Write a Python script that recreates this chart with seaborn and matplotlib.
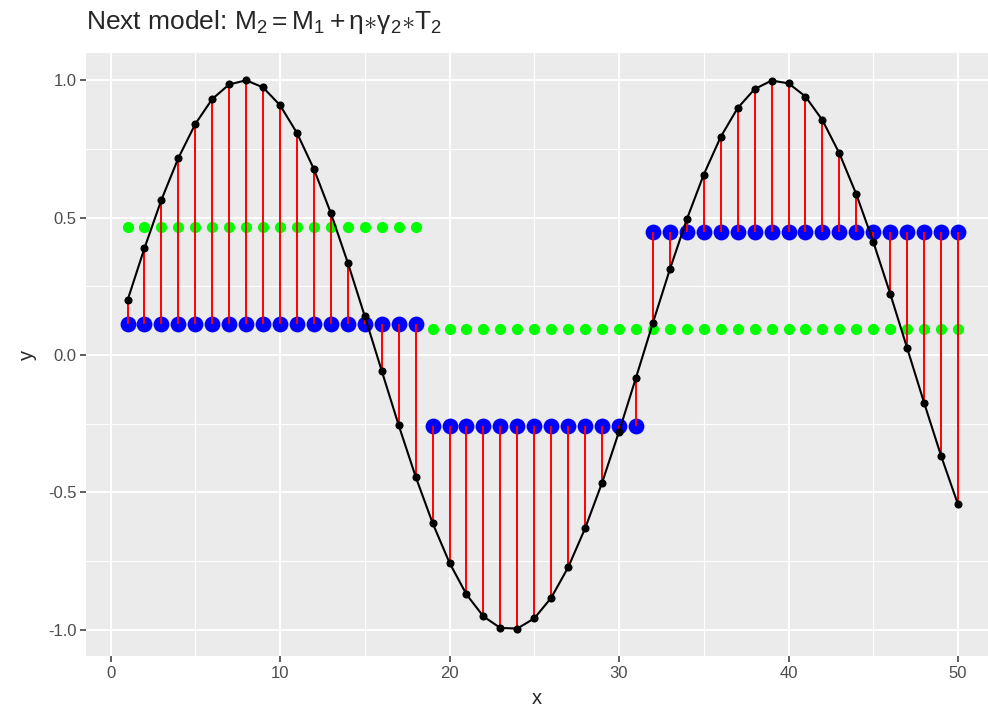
import matplotlib
matplotlib.use('Agg')
import matplotlib.pyplot as plt
from matplotlib.ticker import MultipleLocator
import pandas as pd
import seaborn as sns

# observed values (black curve)
x = list(range(1, 51))
y = [0.199, 0.389, 0.565, 0.717, 0.841, 0.932, 0.985, 1.000, 0.974, 0.909,
     0.808, 0.676, 0.516, 0.335, 0.141, -0.058, -0.256, -0.443, -0.612, -0.757,
     -0.872, -0.952, -0.994, -0.996, -0.959, -0.884, -0.773, -0.631, -0.465, -0.279,
     -0.083, 0.117, 0.312, 0.494, 0.657, 0.794, 0.899, 0.968, 0.999, 0.989,
     0.941, 0.855, 0.734, 0.585, 0.412, 0.223, 0.025, -0.174, -0.367, -0.544]

# previous model M1 (green) and next model M2 (blue), piecewise constant
m1 = [0.465] * 18 + [0.095] * 32
m2 = [0.112] * 18 + [-0.258] * 13 + [0.449] * 19

df = pd.DataFrame({'x': x, 'y': y, 'm1': m1, 'm2': m2})

sns.set_theme(style='darkgrid')
plt.rcParams['font.family'] = ['Liberation Sans', 'DejaVu Sans']
plt.rcParams['mathtext.fontset'] = 'custom'
plt.rcParams['mathtext.rm'] = 'Liberation Sans'
plt.rcParams['mathtext.it'] = 'Liberation Sans'

fig, ax = plt.subplots(figsize=(9.88, 7.1), dpi=100)
fig.subplots_adjust(left=86/988, right=1.0, top=1-53/710, bottom=1-656/710)

ax.set_facecolor('#EBEBEB')
for s in ax.spines.values():
    s.set_visible(False)

sns.scatterplot(data=df, x='x', y='m2', color='blue', s=130, linewidth=0, ax=ax, zorder=2)
sns.scatterplot(data=df, x='x', y='m1', color='#00FF00', s=65, linewidth=0, ax=ax, zorder=3)
ax.vlines(df['x'], df['m2'], df['y'], color='red', linewidth=1.4, zorder=4)
sns.lineplot(data=df, x='x', y='y', color='black', linewidth=1.5, ax=ax, zorder=5)
sns.scatterplot(data=df, x='x', y='y', color='black', s=34, linewidth=0, ax=ax, zorder=6)

ax.set_xlim(-1.45, 51.77)
ax.set_ylim(-1.096, 1.0994)
ax.xaxis.set_major_locator(MultipleLocator(10))
ax.xaxis.set_minor_locator(MultipleLocator(5))
ax.yaxis.set_major_locator(MultipleLocator(0.5))
ax.yaxis.set_minor_locator(MultipleLocator(0.25))
ax.yaxis.set_major_formatter(plt.FuncFormatter(lambda v, p: f'{v:.1f}'))

ax.grid(which='major', color='white', linewidth=1.5)
ax.grid(which='minor', color='white', linewidth=0.8)
ax.set_axisbelow(True)
ax.tick_params(which='major', length=4, width=1.1, color='#333333',
               labelsize=12, labelcolor='#4D4D4D', pad=3, bottom=True, left=True)
ax.tick_params(which='minor', length=0)

ax.set_xlabel('x', fontsize=14.5, labelpad=6)
ax.set_ylabel('y', fontsize=14.5, labelpad=8)
ax.set_title(r'Next model: $\mathrm{M_2 = M_1 + \eta{\ast}\gamma_2{\ast}T_2}$',
             loc='left', fontsize=19, pad=17)

plt.savefig('out.png', dpi=100)
